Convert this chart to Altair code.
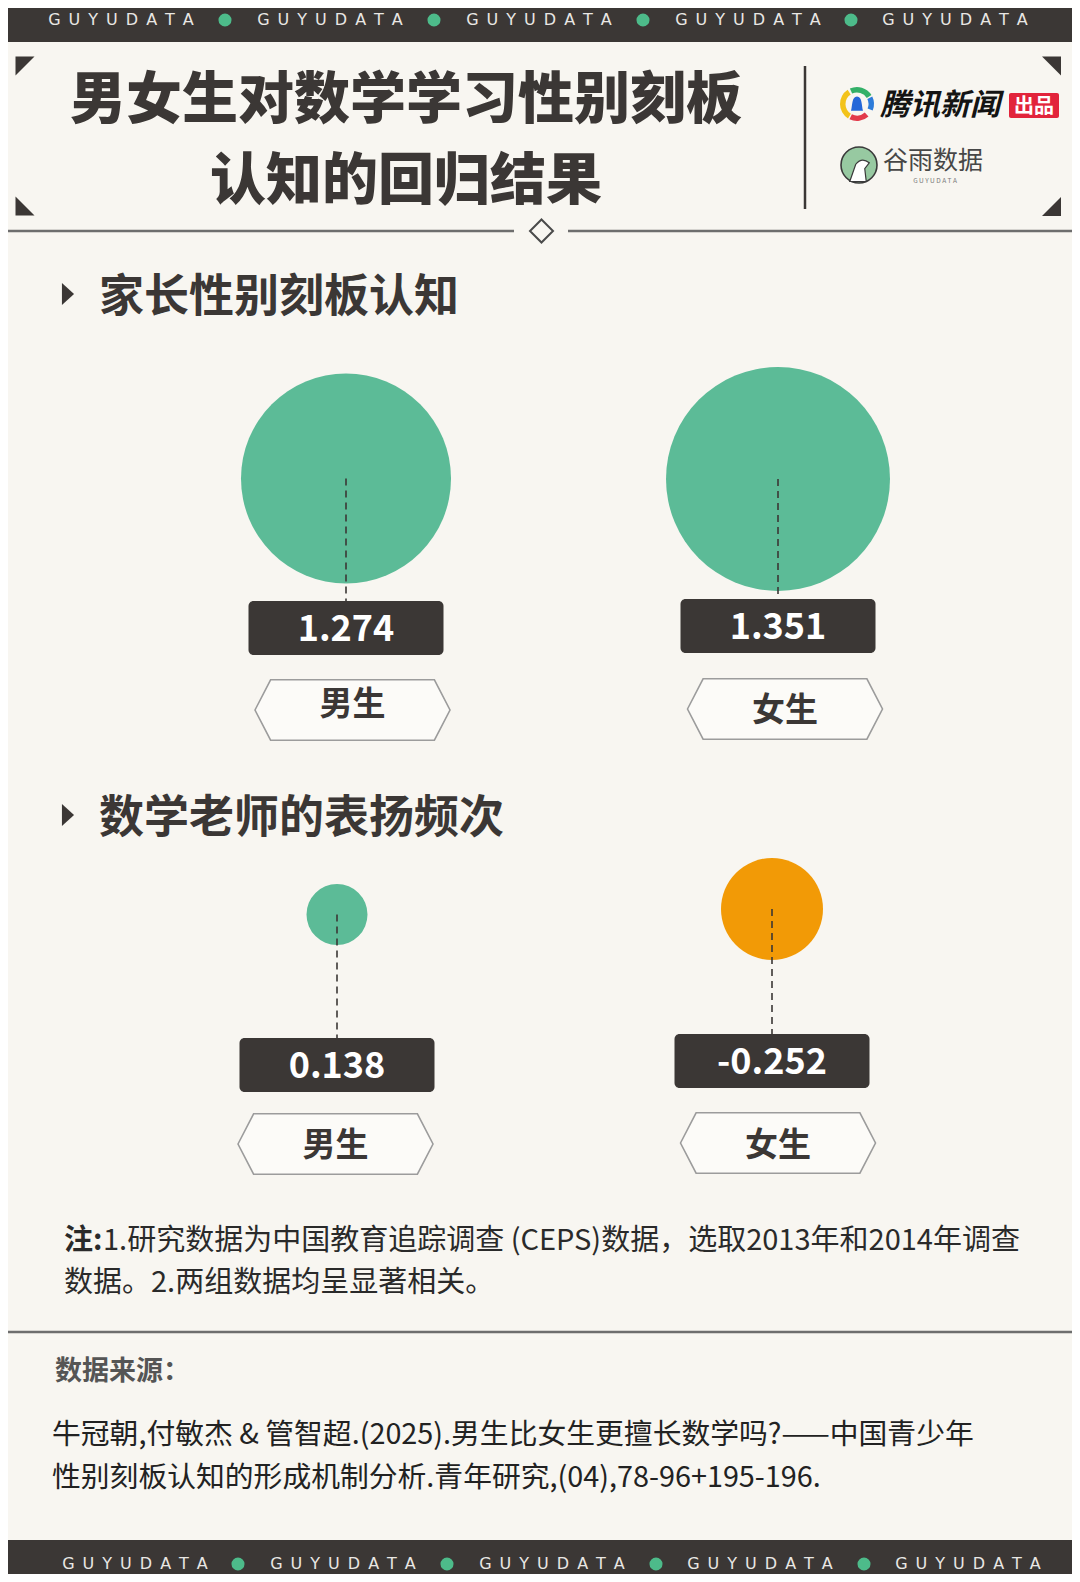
import altair as alt
import numpy as np
import pandas as pd

# ---------------- data ----------------
title_lines = ["男女生对数学学习性别刻板", "认知的回归结果"]
section_titles = ["家长性别刻板认知", "数学老师的表扬频次"]
groups = ["男生", "女生"]
parent_values = [1.274, 1.351]     # 家长性别刻板认知
teacher_values = [0.138, -0.252]   # 数学老师的表扬频次
note_head = "注:"
note_lines = ["1.研究数据为中国教育追踪调查 (CEPS)数据，选取2013年和2014年调查",
              "数据。2.两组数据均呈显著相关。"]
source_head = "数据来源："
source_lines = ["牛冠朝,付敏杰 & 管智超.(2025).男生比女生更擅长数学吗?——中国青少年",
                "性别刻板认知的形成机制分析.青年研究,(04),78-96+195-196."]
brand = "GUYUDATA"
logo_news = "腾讯新闻"
logo_badge = "出品"
logo_guyu = "谷雨数据"

# ---------------- layout (page pixels) ----------------
PAGE_W, PAGE_H, MARGIN = 1080, 1582, 8
DARK = "#3b3735"
BG = "#f8f6f1"
GREEN = "#5cbb97"
ORANGE = "#f29a06"
LINE_GRAY = "#6e6e6e"
CJK = "Noto Sans CJK SC"

XS = alt.Scale(domain=[MARGIN, PAGE_W - MARGIN], nice=False, zero=False)
YS = alt.Scale(domain=[MARGIN, PAGE_H - MARGIN], nice=False, zero=False, reverse=True)


def X(f="x"):
    return alt.X(f"{f}:Q", scale=XS, axis=None)


def Y(f="y"):
    return alt.Y(f"{f}:Q", scale=YS, axis=None)


def rects(x, x2, y, y2, color, **kw):
    df = pd.DataFrame({"x": x, "x2": x2, "y": y, "y2": y2})
    return alt.Chart(df).mark_rect(color=color, **kw).encode(
        x=X("x"), x2=alt.X2("x2"), y=Y("y"), y2=alt.Y2("y2"))


def hrules(x, x2, y, color, width, **kw):
    df = pd.DataFrame({"x": x, "x2": x2, "y": y})
    return alt.Chart(df).mark_rule(color=color, strokeWidth=width, **kw).encode(
        x=X("x"), x2=alt.X2("x2"), y=Y("y"))


def vrules(x, y, y2, color, width, **kw):
    df = pd.DataFrame({"x": x, "y": y, "y2": y2})
    return alt.Chart(df).mark_rule(color=color, strokeWidth=width, **kw).encode(
        x=X("x"), y=Y("y"), y2=alt.Y2("y2"))


def texts(x, y, t, size, color=DARK, weight="normal", align="center", font=CJK, **kw):
    df = pd.DataFrame({"x": x, "y": y, "t": t})
    return alt.Chart(df).mark_text(fontSize=size, color=color, fontWeight=weight,
                                   align=align, baseline="middle", font=font, **kw).encode(
        x=X("x"), y=Y("y"), text="t:N")


def shapes(x, y, path, size, **kw):
    df = pd.DataFrame({"x": x, "y": y})
    return alt.Chart(df).mark_point(shape=path, size=size, opacity=1, **kw).encode(
        x=X("x"), y=Y("y"))


layers = []

# bands top / bottom
layers.append(rects([0, 0], [PAGE_W, PAGE_W], [0, 1540], [42, PAGE_H], DARK))
spaced = "\u2002".join(brand)
top_text_x = [121, 330, 539, 748, 955]
top_dot_x = [225, 434, 643, 851]
bot_text_x = [135, 343, 552, 760, 968]
bot_dot_x = [238, 447, 656, 864]
layers.append(texts(top_text_x, [20] * 5, [spaced] * 5, 16, color="#e9e7e4",
                    font="DejaVu Sans"))
layers.append(texts(bot_text_x, [1564] * 5, [spaced] * 5, 16, color="#e9e7e4",
                    font="DejaVu Sans"))
layers.append(alt.Chart(pd.DataFrame({"x": top_dot_x + bot_dot_x,
                                      "y": [20] * 4 + [1564] * 4}))
              .mark_circle(size=170, color="#4dbb8a", opacity=1)
              .encode(x=X(), y=Y()))

# title frame
layers.append(hrules([0, 568], [514, PAGE_W], [231, 231], LINE_GRAY, 2.5))
layers.append(shapes([541.5], [231], "M 0 -1 L 1 0 L 0 1 L -1 0 Z", 23 ** 2,
                     filled=False, stroke="#4a4a4a", strokeWidth=2))
corner_paths = {
    "tl": "M -1 -1 L 1 -1 L -1 1 Z",
    "bl": "M -1 -1 L -1 1 L 1 1 Z",
    "tr": "M -1 -1 L 1 -1 L 1 1 Z",
    "br": "M 1 -1 L 1 1 L -1 1 Z",
}
corner_pos = {"tl": (25, 66), "bl": (25, 206), "tr": (1051.5, 66), "br": (1051.5, 206.5)}
for k, p in corner_paths.items():
    layers.append(shapes([corner_pos[k][0]], [corner_pos[k][1]], p, 19 ** 2,
                         filled=True, color=DARK))
layers.append(texts([406], [100.5], title_lines[:1], 56, weight=900))
layers.append(texts([406], [181.5], title_lines[1:], 56, weight=900))
layers.append(vrules([805], [66], [209], DARK, 2.5))

# logos
ring = [(3.70, 5.70, "#f3c31a"), (5.85, 7.30, "#33b068"),
        (7.40, 8.25, "#2d7bd9"), (2.40, 3.60, "#e23a4a")]
for t1, t2, c in ring:
    layers.append(alt.Chart(pd.DataFrame({"x": [857], "y": [104]}))
                  .mark_arc(theta=t1, theta2=t2, radius=17, radius2=11.5, color=c)
                  .encode(x=X(), y=Y()))
layers.append(shapes([857], [104],
                     "M 0 -1 C 0.7 -1 0.6 0.2 0.8 0.9 L -0.8 0.9 C -0.6 0.2 -0.7 -1 0 -1 Z",
                     15 ** 2, filled=True, color="#2467d8"))
layers.append(texts([880], [106], [logo_news], 30, color="#141414", weight="bold",
                    align="left", fontStyle="italic"))
layers.append(rects([1009], [1059], [93], [118], "#e2243b", cornerRadius=2))
layers.append(texts([1034], [107], [logo_badge], 20, color="white", weight="bold"))
layers.append(shapes([859], [165], "circle", 36 ** 2, filled=True, fill="#97c9a1",
                     stroke="#3a3a3a", strokeWidth=1.6))
layers.append(shapes([861], [168],
                     "M -0.75 0.9 L -0.35 -0.25 Q 0.05 -0.75 0.55 -0.35 L 0.25 0.05 L 0.35 0.9 Z",
                     30 ** 2, filled=True, fill="#ffffff", stroke="#3a3a3a", strokeWidth=1.2))
layers.append(texts([883], [161], [logo_guyu], 25, color="#474747", align="left"))
layers.append(texts([935], [181], [" ".join(brand)], 6.5, color="#777777"))

# section headings
PLAY = "M -0.55 -1 L 0.55 0 L -0.55 1 Z"
layers.append(shapes([68, 68], [294, 815], PLAY, 22 ** 2, filled=True, color=DARK))
layers.append(texts([99, 99], [298, 819], section_titles, 45, weight="bold", align="left"))

# ---------------- data items ----------------
items = pd.DataFrame({
    "section": [0, 0, 1, 1],
    "group": groups * 2,
    "value": parent_values + teacher_values,
})
items["label"] = items["value"].map(lambda v: f"{v:.3f}")
items["mag"] = items["value"].abs()
items["sign"] = np.where(items["value"] < 0, "neg", "pos")
# layout per item
items["x"] = [346, 778, 337, 772]
items["y"] = [478.5, 479, 914.5, 909]
items["box_top"] = [601, 599, 1038, 1034]
items["box_bot"] = items["box_top"] + 54
items["box_l"] = items["x"] - 97.5
items["box_r"] = items["x"] + 97.5
items["val_y"] = items["box_top"] + 29
items["lab_x"] = [352.5, 785, 335.5, 778]
items["lab_y"] = [710, 709, 1144, 1143]
items["lab_ty"] = [705, 711, 1146, 1146]
diam = {0: (210, 224), 1: (61, 102)}

color_enc = alt.Color("sign:N", scale=alt.Scale(domain=["pos", "neg"], range=[GREEN, ORANGE]),
                      legend=None)
for s in (0, 1):
    d = items[items["section"] == s]
    lo, hi = float(d["mag"].min()), float(d["mag"].max())
    layers.append(alt.Chart(d).mark_circle(opacity=1).encode(
        x=X("x"), y=Y("y"), color=color_enc,
        size=alt.Size("mag:Q", scale=alt.Scale(domain=[lo, hi],
                                               range=[diam[s][0] ** 2, diam[s][1] ** 2],
                                               zero=False), legend=None)))

layers.append(alt.Chart(items).mark_rule(color=DARK, strokeWidth=1.6, strokeDash=[7, 5]).encode(
    x=X("x"), y=Y("y"), y2=alt.Y2("box_top")))
layers.append(alt.Chart(items).mark_rect(color=DARK, cornerRadius=5).encode(
    x=X("box_l"), x2=alt.X2("box_r"), y=Y("box_top"), y2=alt.Y2("box_bot")))
layers.append(alt.Chart(items).mark_text(fontSize=36, fontWeight="bold", color="white",
                                         font=CJK, baseline="middle").encode(
    x=X("x"), y=Y("val_y"), text="label:N"))
HEX = "M -1 0 L -0.84 -0.31 L 0.84 -0.31 L 1 0 L 0.84 0.31 L -0.84 0.31 Z"
layers.append(alt.Chart(items).mark_point(shape=HEX, size=195 ** 2, filled=True,
                                          fill="#fcfbf8", stroke="#9c9c9c",
                                          strokeWidth=1.6, opacity=1).encode(
    x=X("lab_x"), y=Y("lab_y")))
layers.append(alt.Chart(items).mark_text(fontSize=33, fontWeight="bold", color=DARK,
                                         font=CJK, baseline="middle").encode(
    x=X("lab_x"), y=Y("lab_ty"), text="group:N"))

# notes
layers.append(texts([64], [1241], [note_head], 29, weight="bold", align="left", color="#2a2a2a"))
layers.append(texts([103, 64], [1241, 1283], note_lines, 29, align="left", color="#2a2a2a"))
layers.append(hrules([0], [PAGE_W], [1332], LINE_GRAY, 2.5))
layers.append(texts([55], [1372], [source_head], 27, weight="bold", align="left", color="#555555"))
layers.append(texts([52, 52], [1435, 1478], source_lines, 28.8, align="left", color="#222222"))

chart = (alt.layer(*layers)
         .resolve_scale(size="independent")
         .properties(width=PAGE_W - 2 * MARGIN, height=PAGE_H - 2 * MARGIN,
                     autosize=alt.AutoSizeParams(type="none"), padding=0, background=BG)
         .configure_view(stroke=None))

chart.save("out.html", embed_options={"renderer": "svg", "actions": False})
